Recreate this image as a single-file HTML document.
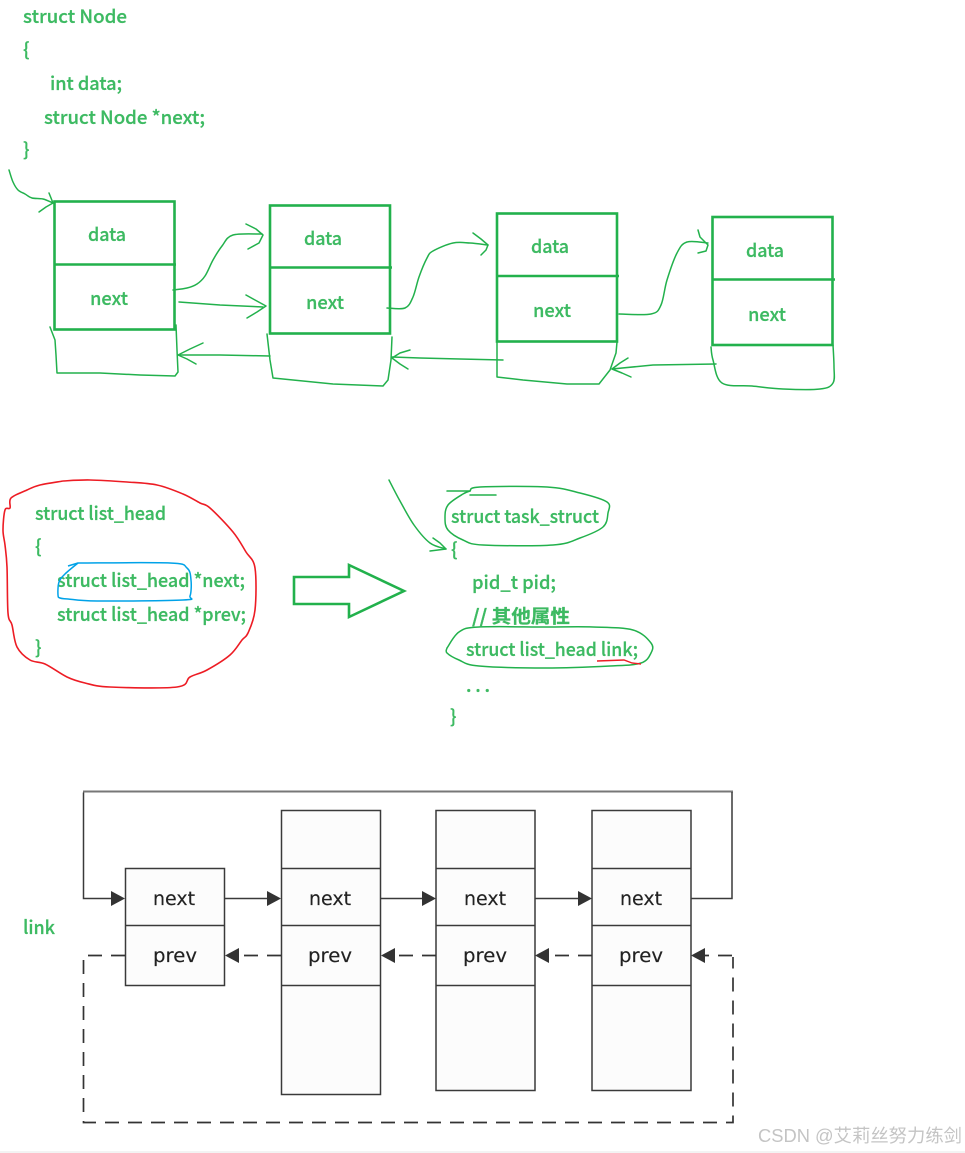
<!DOCTYPE html>
<html><head><meta charset="utf-8"><title>Diagram</title>
<style>
html,body{margin:0;padding:0;background:#fff}
svg{display:block;filter:blur(0.3px)}
.g{font-family:"Noto Sans CJK SC","Liberation Sans",sans-serif;font-size:18.5px;fill:#3dba62;font-weight:500;stroke:#3dba62;stroke-width:.25}
.d{font-family:"DejaVu Sans","Liberation Sans",sans-serif;font-size:18.5px;fill:#222;stroke:#222;stroke-width:.15}
.h{fill:none;stroke:#22b14c;stroke-width:1.5;stroke-linejoin:round;stroke-linecap:round}
.b{fill:none;stroke:#22b14c;stroke-width:2.6}
.k{fill:#fcfcfc;stroke:#3a3a3a;stroke-width:1.5}
.l{fill:none;stroke:#3a3a3a;stroke-width:1.5}
.da{fill:none;stroke:#333;stroke-width:1.7;stroke-dasharray:14 9}
.a{fill:#333;stroke:none}
</style></head><body>
<svg width="965" height="1153" viewBox="0 0 965 1153" xmlns="http://www.w3.org/2000/svg">
<rect width="965" height="1153" fill="#fff"/>
<rect y="1151" width="965" height="2" fill="#f3f3f3"/>

<text class="g" x="23" y="23" textLength="104" lengthAdjust="spacingAndGlyphs">struct Node</text>
<text class="g" x="23" y="56">{</text>
<text class="g" x="50" y="90" textLength="72" lengthAdjust="spacingAndGlyphs">int data;</text>
<text class="g" x="44" y="124" textLength="161" lengthAdjust="spacingAndGlyphs">struct Node *next;</text>
<text class="g" x="23" y="156">}</text>

<g class="b">
<rect x="54.500" y="201.500" width="120" height="128"/><path d="M54 264.500H176"/>
<rect x="270" y="205.500" width="120" height="128"/><path d="M270 267.500H392"/>
<rect x="497" y="213.500" width="120" height="128"/><path d="M497 276H619"/>
<rect x="712.500" y="217" width="120" height="128"/><path d="M712 279.500H835"/>
</g>

<text class="g" x="88" y="241" textLength="38" lengthAdjust="spacingAndGlyphs">data</text>
<text class="g" x="90" y="305" textLength="38" lengthAdjust="spacingAndGlyphs">next</text>
<text class="g" x="304" y="245" textLength="38" lengthAdjust="spacingAndGlyphs">data</text>
<text class="g" x="306" y="309" textLength="38" lengthAdjust="spacingAndGlyphs">next</text>
<text class="g" x="531" y="253" textLength="38" lengthAdjust="spacingAndGlyphs">data</text>
<text class="g" x="533" y="317" textLength="38" lengthAdjust="spacingAndGlyphs">next</text>
<text class="g" x="746" y="257" textLength="38" lengthAdjust="spacingAndGlyphs">data</text>
<text class="g" x="748" y="321" textLength="38" lengthAdjust="spacingAndGlyphs">next</text>

<g class="h">
<polyline class="s" points="9,170 13,182 18,190 25,194 32,198 43,199 53,203"/>
<polyline points="49,193 51,198 53,203 46,207 39,212"/>
<polyline points="50,327 55,340 56,355 57,373 100,373 140,375 175,376 178,372 177,350 176,325"/>
<polyline class="s" points="173,290 187,288 197,284 205,276 213,260 222,246 233,235 262,234"/>
<polyline points="246,224 256,229 263,235 259,243 248,249"/>
<polyline points="179,302 220,305 263,307"/>
<polyline points="246,295 255,300 266,306 257,312 247,318"/>
<polyline points="270,356 220,355 178,355"/>
<polyline points="203,343 190,349 178,355 187,359 196,364"/>
<polyline points="267,334 270,360 273,378 333,384 383,386 388,380 391,360 392,337"/>
<polyline class="s" points="387,308 405,308 413,297 419,277 427,258 433,251 453,243 470,243 488,245"/>
<polyline points="473,233 481,239 488,245 486,250 481,255"/>
<polyline points="503,360 460,359 420,358 392,357"/>
<polyline points="410,350 400,353 392,358 400,364 408,369"/>
<polyline points="497,342 497,377 523,380 567,384 599,384 610,370 616,353 617,342"/>
<polyline class="s" points="619,314 651,314 661,305 667,280 677,253 687,242 708,243"/>
<polyline points="698,230 700,237 708,245 706,251 698,253"/>
<polyline points="716,364 653,365 612,369"/>
<polyline points="628,358 620,363 612,369 622,373 631,377"/>
<polyline class="s" points="711,347 713,360 722,383 752,386 783,389 820,389 833,383 834,367 833,345"/>
</g>

<!-- list_head -->
<polyline class="s" fill="none" stroke="#ed1c24" stroke-width="1.6" stroke-linejoin="round" points="63,481 90,480 127,482 157,485 183,494 200,503 210,508 233,532 246,552 255,568 255,610 248,633 242,640 230,655 207,670 190,677 177,687 110,687 85,683 67,677 45,664 30,660 17,647 12,625 8,613 7,567 5,545 3,530 5,510 10,508 11,498 27,490 40,485 63,481"/>
<text class="g" x="35" y="520" textLength="131" lengthAdjust="spacingAndGlyphs">struct list_head</text>
<text class="g" x="35" y="553">{</text>
<text class="g" x="57" y="587" textLength="188" lengthAdjust="spacingAndGlyphs">struct list_head *next;</text>
<text class="g" x="57" y="621" textLength="189" lengthAdjust="spacingAndGlyphs">struct list_head *prev;</text>
<text class="g" x="35" y="654">}</text>
<polyline class="s" fill="none" stroke="#00a2e8" stroke-width="1.5" stroke-linejoin="round" stroke-linecap="round" points="78,563 65,574 59,582 58,595 60,598 68,599 97,601 183,600 190,596 191,580 187,568 170,563 78,563"/>
<polyline fill="none" stroke="#00a2e8" stroke-width="1.5" points="68,566 78,563"/>
<polygon points="294,577 349,577 349,565 404,591 349,617 349,604 294,604" fill="none" stroke="#22b14c" stroke-width="2.6"/>

<!-- task_struct -->
<g class="h">
<polyline points="447,491 470,491"/>
<polyline points="470,495 496,495"/>
<polyline class="s" points="470,491 480,487 547,487 580,493 607,502 608,513 603,527 580,538 553,545 483,545 463,540 448,530 445,518 448,505 463,494 470,491"/>
<polyline class="s" points="389,480 400,501 414,525 430,543 446,549"/>
<polyline points="433,538 440,543 446,549 438,550 430,551"/>
<polyline class="s" points="447,648 459,632 479,627 546,627 593,627 633,630 651,643 651,653 641,663 610,666 546,668 479,666 459,660 447,653 447,648"/>
</g>
<polyline fill="none" stroke="#ed1c24" stroke-width="1.4" points="597,661 624,660 632,663 641,664"/>
<text class="g" x="451" y="523" textLength="148" lengthAdjust="spacingAndGlyphs">struct task_struct</text>
<text class="g" x="451" y="556">{</text>
<text class="g" x="472" y="589" textLength="84" lengthAdjust="spacingAndGlyphs">pid_t pid;</text>
<text class="g" x="472" y="623" style="font-weight:700" textLength="98" lengthAdjust="spacingAndGlyphs">// 其他属性</text>
<text class="g" x="466" y="656" textLength="172" lengthAdjust="spacingAndGlyphs">struct list_head link;</text>
<text class="g" x="466" y="692" textLength="24">. . .</text>
<text class="g" x="450" y="723">}</text>

<!-- bottom -->
<rect class="k" x="125.500" y="868.500" width="99" height="117"/>
<path class="l" d="M125 925.500H225"/>
<rect class="k" x="281.500" y="810.500" width="99" height="284"/>
<path class="l" d="M281 868.500H381M281 925.500H381M281 985.500H381"/>
<rect class="k" x="436" y="810.500" width="99" height="280"/>
<path class="l" d="M436 868.500H535M436 925.500H535M436 985.500H535"/>
<rect class="k" x="592" y="810.500" width="99" height="280"/>
<path class="l" d="M592 868.500H691M592 925.500H691M592 985.500H691"/>

<path class="l" d="M83.500 792.500V898.500H115"/>
<path d="M83 791.500H733" fill="none" stroke="#777" stroke-width="2"/>
<path class="l" d="M691 898.500H732V792"/>
<path class="l" d="M225 898.500H272M381 898.500H426M535 898.500H582"/>
<polygon class="a" points="125,898.500 111,891 111,906"/>
<polygon class="a" points="281,898.500 267,891 267,906"/>
<polygon class="a" points="436,898.500 422,891 422,906"/>
<polygon class="a" points="592,898.500 578,891 578,906"/>

<path class="da" d="M125 955.500H83.500V1122.500H733V957"/>
<path class="da" d="M281 955.500H235M436 955.500H392M592 955.500H547"/>
<path class="da" d="M732 955.500H702"/>
<polygon class="a" points="225,955.500 239,948 239,963"/>
<polygon class="a" points="381,955.500 395,948 395,963"/>
<polygon class="a" points="535,955.500 549,948 549,963"/>
<polygon class="a" points="691,955.500 705,948 705,963"/>

<text class="d" x="153" y="905" textLength="42" lengthAdjust="spacingAndGlyphs">next</text>
<text class="d" x="153" y="962" textLength="44" lengthAdjust="spacingAndGlyphs">prev</text>
<text class="d" x="309" y="905" textLength="42" lengthAdjust="spacingAndGlyphs">next</text>
<text class="d" x="308" y="962" textLength="44" lengthAdjust="spacingAndGlyphs">prev</text>
<text class="d" x="464" y="905" textLength="42" lengthAdjust="spacingAndGlyphs">next</text>
<text class="d" x="463" y="962" textLength="44" lengthAdjust="spacingAndGlyphs">prev</text>
<text class="d" x="620" y="905" textLength="42" lengthAdjust="spacingAndGlyphs">next</text>
<text class="d" x="619" y="962" textLength="44" lengthAdjust="spacingAndGlyphs">prev</text>

<text class="g" x="23" y="934" textLength="32" lengthAdjust="spacingAndGlyphs">link</text>
<text x="758" y="1142" textLength="204" lengthAdjust="spacingAndGlyphs" style="font-family:'Liberation Sans','Noto Sans CJK SC',sans-serif;font-size:18px;fill:#c4c4c4">CSDN @艾莉丝努力练剑</text>
</svg>
<script>
document.querySelectorAll('polyline.s').forEach(function(e){
  var n=e.getAttribute('points').trim().split(/\s+/).map(function(q){return q.split(',').map(Number)});
  var d='M'+n[0][0]+' '+n[0][1];
  for(var i=0;i<n.length-1;i++){
    var a=n[Math.max(i-1,0)],b=n[i],c=n[i+1],f=n[Math.min(i+2,n.length-1)];
    d+='C'+(b[0]+(c[0]-a[0])/6).toFixed(1)+' '+(b[1]+(c[1]-a[1])/6).toFixed(1)+' '+(c[0]-(f[0]-b[0])/6).toFixed(1)+' '+(c[1]-(f[1]-b[1])/6).toFixed(1)+' '+c[0]+' '+c[1];
  }
  var p=document.createElementNS('http://www.w3.org/2000/svg','path');
  for(var j=0;j<e.attributes.length;j++){var t=e.attributes[j];if(t.name!='points')p.setAttribute(t.name,t.value);}
  p.setAttribute('d',d);
  e.parentNode.replaceChild(p,e);
});
</script>
</body></html>
